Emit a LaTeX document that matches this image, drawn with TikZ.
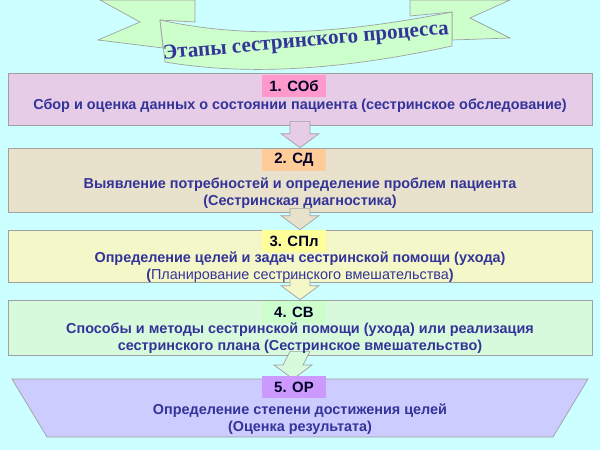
\documentclass[tikz,border=0pt]{standalone}
\usepackage{fontspec}
\setmainfont{Liberation Sans}
\newfontfamily\bannerfont{Liberation Serif}
\usetikzlibrary{calc}
\definecolor{bgcyan}{HTML}{CCFFFF}
\definecolor{txtblue}{HTML}{333399}
\definecolor{rimgray}{HTML}{A0A0A0}
\definecolor{ribbon}{HTML}{CCFFCC}
\definecolor{fillA}{HTML}{E6CCE6}\definecolor{tagA}{HTML}{FF99CC}
\definecolor{fillB}{HTML}{E8E2CC}\definecolor{tagB}{HTML}{FFCC99}
\definecolor{fillC}{HTML}{F4F8C8}\definecolor{tagC}{HTML}{FFFF99}
\definecolor{fillD}{HTML}{D8FADC}\definecolor{tagD}{HTML}{CCFFCC}
\definecolor{fillE}{HTML}{CCCCFF}\definecolor{tagE}{HTML}{CC99FF}
\tikzset{
  stage/.style={draw=rimgray,fill=#1,minimum width=584\pxu,inner sep=0pt},
  tag/.style={fill=#1,minimum width=64\pxu,minimum height=22\pxu,inner sep=0pt,
    font=\fontsize{8.5}{10}\selectfont\bfseries,text=black!85!blue},
  lines/.style={align=center,text=txtblue,font=\fontsize{8.2}{9.3}\selectfont\bfseries},
}
\def\pxu{*0.02cm}
% arrow between two stages
\def\steparrow#1#2#3{
  \filldraw[draw=rimgray,fill=#3]
    ($(#1)+(-10,-4)$) -- ($(#1)+(10,-4)$) -- ($(#2)+(10,-14)$)
    -- ($(#2)+(19,-14)$) -- (#2) -- ($(#2)+(-19,-14)$)
    -- ($(#2)+(-10,-14)$) -- cycle;
}
\begin{document}
\begin{tikzpicture}[x=0.02cm,y=-0.02cm]
\fill[bgcyan] (0,0) rectangle (600,450);
\useasboundingbox (0,0) rectangle (600,450);

% banner
\filldraw[draw=rimgray,fill=ribbon] (100,0) -- (195,0) -- (195,22) -- (160,20)
  -- (163,48) -- (98,40) -- (140,22) -- cycle;
\filldraw[draw=rimgray,fill=ribbon] (510,0) -- (410,0) -- (410,16) -- (452,12)
  -- (452,40) -- (510,38) -- (470,18) -- cycle;
\filldraw[draw=rimgray,fill=ribbon] (160,20) .. controls (260,42) and (360,30) .. (452,12)
  -- (452,46) .. controls (360,66) and (260,78) .. (165,62) -- cycle;
\node[font=\bannerfont\fontsize{12}{14}\selectfont\bfseries,text=txtblue,rotate=5]
  (title) at (306,42) {Этапы сестринского процесса};

% stages
\node[stage=fillA,minimum height=52\pxu] (s1) at (300,99) {};
\node[stage=fillB,minimum height=64\pxu] (s2) at (300,180) {};
\node[stage=fillC,minimum height=52\pxu] (s3) at (300,256) {};
\node[stage=fillD,minimum height=55\pxu] (s4) at (300,327.5) {};
\filldraw[draw=rimgray,fill=fillE] (12,379) -- (588,379) -- (553,437) -- (47,437) -- cycle;
\coordinate (s5) at (293,379);

\steparrow{s1.south}{s2.north}{fillA}
\steparrow{s2.south}{s3.north}{fillB}
\steparrow{s3.south}{s4.north}{fillC}
\steparrow{s4.south}{s5}{fillD}

\node[tag=tagA] (t1) at (294,86) {1. СОб};
\node[tag=tagB] (t2) at (294,160) {2. СД};
\node[tag=tagC] (t3) at (294,241) {3. СПл};
\node[tag=tagD] (t4) at (294,312) {4. СВ};
\node[tag=tagE] (t5) at (294,387) {5. ОР};

\node[lines] (l1) at (300,106) {Сбор и оценка данных о состоянии пациента (сестринское обследование)};
\node[lines] (l2) at (300,193) {Выявление потребностей и определение проблем пациента\\(Сестринская диагностика)};
\node[lines] (l3) at (300,267) {Определение целей и задач сестринской помощи (ухода)\\
  (\textmd{Планирование сестринского вмешательства})};
\node[lines] (l4) at (300,338) {Способы и методы сестринской помощи (ухода) или реализация\\сестринского плана (Сестринское вмешательство)};
\node[lines] (l5) at (300,419) {Определение степени достижения целей\\(Оценка результата)};
\end{tikzpicture}
\end{document}
